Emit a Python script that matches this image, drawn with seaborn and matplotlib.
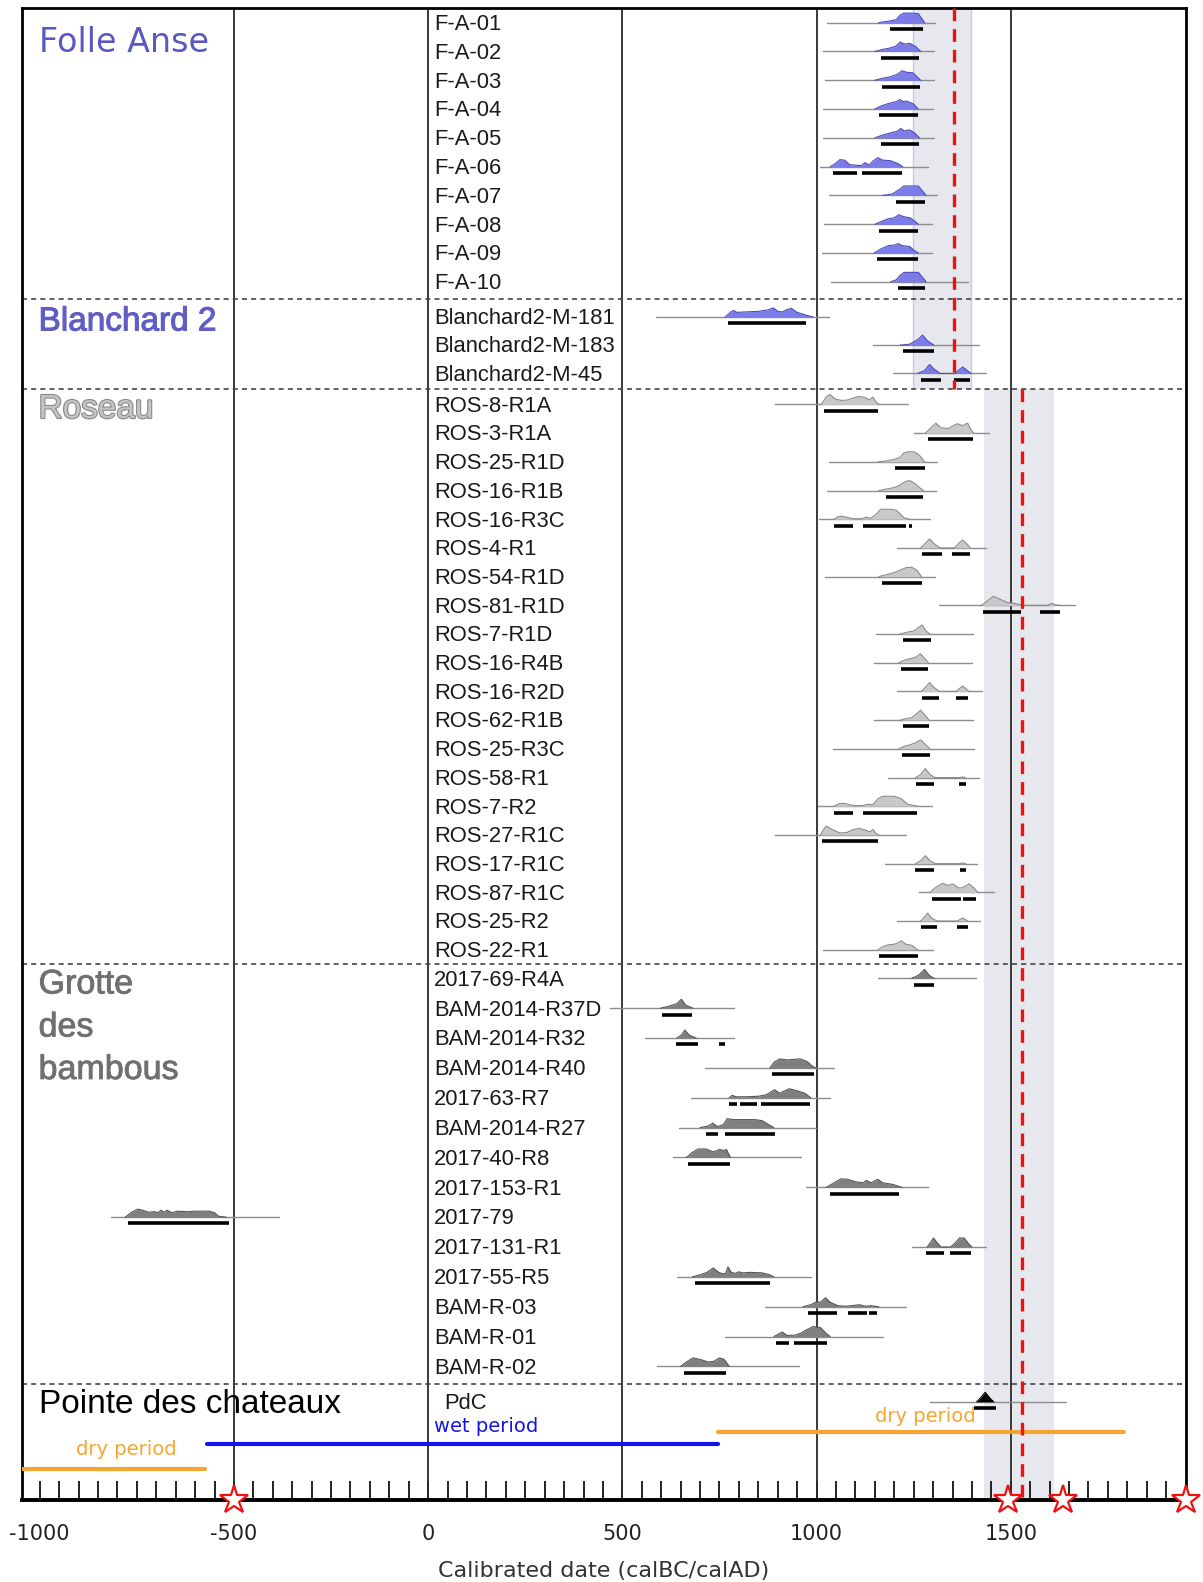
import numpy as np
import pandas as pd
import seaborn as sns
import matplotlib.pyplot as plt
import matplotlib.patheffects as pe
from matplotlib.ticker import MultipleLocator, FixedLocator

# ---------------------------------------------------------------------------
# Data
# ---------------------------------------------------------------------------
groups = ["Folle Anse", "Blanchard 2", "Roseau", "Grotte des bambous", "Pointe des chateaux"]
group_sizes = [10, 3, 20, 14, 1]

names = [
    "F-A-01", "F-A-02", "F-A-03", "F-A-04", "F-A-05",
    "F-A-06", "F-A-07", "F-A-08", "F-A-09", "F-A-10",
    "Blanchard2-M-181", "Blanchard2-M-183", "Blanchard2-M-45",
    "ROS-8-R1A", "ROS-3-R1A", "ROS-25-R1D", "ROS-16-R1B", "ROS-16-R3C",
    "ROS-4-R1", "ROS-54-R1D", "ROS-81-R1D", "ROS-7-R1D", "ROS-16-R4B",
    "ROS-16-R2D", "ROS-62-R1B", "ROS-25-R3C", "ROS-58-R1", "ROS-7-R2",
    "ROS-27-R1C", "ROS-17-R1C", "ROS-87-R1C", "ROS-25-R2", "ROS-22-R1",
    "2017-69-R4A", "BAM-2014-R37D", "BAM-2014-R32", "BAM-2014-R40",
    "2017-63-R7", "BAM-2014-R27", "2017-40-R8", "2017-153-R1", "2017-79",
    "2017-131-R1", "2017-55-R5", "BAM-R-03", "BAM-R-01", "BAM-R-02",
    "PdC",
]

# extent of the thin probability baseline
line_lo = [1027, 1016, 1021, 1016, 1016, 1008, 1033, 1018, 1014, 1037,
           586, 1145, 1196,
           892, 1252, 1032, 1027, 1006, 1207, 1023, 1316, 1152, 1148,
           1207, 1148, 1042, 1183, 1003, 892, 1177, 1263, 1207, 1016,
           1158, 468, 558, 712, 678, 646, 631, 972, -817, 1246, 641, 867, 764, 590,
           1291]
line_hi = [1306, 1303, 1303, 1301, 1302, 1286, 1309, 1298, 1298, 1391,
           1033, 1417, 1436,
           1235, 1445, 1310, 1307, 1291, 1436, 1305, 1666, 1404, 1400,
           1426, 1402, 1406, 1417, 1297, 1231, 1412, 1458, 1421, 1299,
           1411, 787, 787, 1046, 1035, 999, 961, 1288, -385, 1437, 986, 1231, 1170, 956,
           1641]

# probability curves: years and heights (px)
curve_x = [
    [1160, 1185, 1205, 1215, 1225, 1245, 1262, 1278],
    [1150, 1170, 1190, 1205, 1215, 1225, 1240, 1255, 1268],
    [1150, 1170, 1190, 1208, 1220, 1232, 1248, 1268],
    [1150, 1165, 1185, 1205, 1215, 1222, 1232, 1250, 1262],
    [1150, 1168, 1190, 1207, 1217, 1225, 1240, 1252, 1265],
    [1035, 1048, 1060, 1072, 1085, 1100, 1115, 1125, 1135, 1145, 1158, 1170, 1190, 1210, 1222],
    [1170, 1195, 1215, 1225, 1262, 1282],
    [1150, 1168, 1185, 1200, 1212, 1225, 1240, 1250, 1262],
    [1148, 1165, 1185, 1200, 1210, 1220, 1240, 1250, 1262],
    [1190, 1205, 1215, 1225, 1262, 1282],
    [765, 778, 786, 795, 820, 850, 875, 889, 900, 912, 925, 935, 950, 975, 990],
    [1215, 1240, 1260, 1273, 1285, 1302],
    [1260, 1278, 1291, 1302, 1318, 1355, 1365, 1376, 1388, 1398],
    [1012, 1025, 1034, 1048, 1065, 1080, 1095, 1107, 1125, 1135, 1145, 1152, 1160],
    [1280, 1295, 1307, 1320, 1338, 1352, 1363, 1375, 1389, 1398, 1405],
    [1158, 1180, 1200, 1215, 1225, 1235, 1252, 1265, 1278],
    [1160, 1180, 1200, 1215, 1228, 1240, 1255, 1265, 1275],
    [1045, 1055, 1065, 1078, 1095, 1115, 1128, 1140, 1155, 1165, 1190, 1205, 1215, 1225, 1240],
    [1268, 1280, 1291, 1302, 1318, 1355, 1366, 1376, 1386, 1396],
    [1160, 1180, 1200, 1215, 1230, 1245, 1258, 1270],
    [1425, 1440, 1455, 1470, 1490, 1510, 1530, 1595, 1605, 1615, 1625],
    [1215, 1235, 1250, 1262, 1272, 1282, 1292],
    [1212, 1225, 1240, 1255, 1267, 1278, 1288],
    [1270, 1281, 1291, 1301, 1316, 1360, 1368, 1376, 1384, 1392],
    [1215, 1230, 1245, 1258, 1268, 1280, 1290],
    [1212, 1225, 1240, 1255, 1268, 1280, 1292],
    [1255, 1268, 1280, 1292, 1305, 1370, 1376, 1383],
    [1045, 1058, 1070, 1085, 1100, 1120, 1132, 1145, 1158, 1170, 1200, 1218, 1235, 1260],
    [1010, 1018, 1025, 1040, 1060, 1078, 1095, 1110, 1125, 1138, 1145, 1152, 1160],
    [1255, 1268, 1280, 1292, 1305, 1368, 1376, 1384],
    [1292, 1305, 1318, 1325, 1338, 1351, 1365, 1375, 1393, 1405, 1415],
    [1268, 1278, 1286, 1296, 1310, 1362, 1376, 1390],
    [1158, 1170, 1185, 1200, 1210, 1218, 1230, 1245, 1260],
    [1245, 1262, 1278, 1290, 1303],
    [598, 620, 640, 652, 663, 682],
    [640, 652, 661, 672, 690],
    [880, 890, 905, 925, 940, 958, 975, 990, 998],
    [775, 783, 792, 820, 850, 870, 892, 905, 918, 930, 950, 970, 985],
    [700, 720, 733, 745, 760, 770, 785, 810, 840, 860, 870, 890],
    [665, 678, 695, 715, 735, 750, 762, 768, 778],
    [1025, 1045, 1063, 1080, 1100, 1120, 1128, 1140, 1158, 1170, 1195, 1220],
    [-780, -765, -748, -735, -720, -705, -695, -688, -680, -672, -660, -645, -620, -600, -565, -550, -540, -520],
    [1285, 1295, 1301, 1310, 1320, 1345, 1358, 1368, 1380, 1392, 1400],
    [680, 700, 718, 734, 748, 755, 765, 772, 780, 790, 800, 810, 830, 860, 880, 890],
    [965, 985, 1000, 1010, 1023, 1035, 1055, 1075, 1090, 1110, 1125, 1140, 1160],
    [890, 900, 911, 925, 945, 960, 975, 991, 1010, 1025, 1035],
    [650, 665, 682, 700, 720, 735, 750, 762, 775],
    [1412, 1420, 1434, 1448, 1456],
]
curve_h = [
    [0, 1.5, 3, 7.5, 9.5, 9.5, 9, 0],
    [0, 2, 3.5, 5.5, 9.5, 7.5, 8, 5, 0],
    [0, 2, 3.5, 6, 9.5, 8, 7.5, 0],
    [0, 3, 5.5, 7.5, 9.5, 7.5, 8, 5, 0],
    [0, 2.5, 5, 6.5, 9.5, 7, 8, 5, 0],
    [0, 3, 7, 6.5, 2, 1.5, 1, 4, 1.5, 5.5, 9, 6.5, 6, 3, 0],
    [0, 1.5, 6.5, 9.5, 9.5, 0],
    [0, 3, 5.5, 6.5, 9.5, 7.5, 6.5, 4, 0],
    [0, 4, 7.5, 8, 9.5, 7.5, 6.5, 3, 0],
    [0, 2, 6.5, 9.5, 9.5, 0],
    [0, 4.5, 6.5, 4.5, 5, 5.5, 7, 9, 5.5, 5, 7.5, 8.5, 4.5, 1.5, 0],
    [0, 1, 5.5, 10, 4.5, 0],
    [0, 3, 9, 4.5, 0, 0, 3, 6.5, 3, 0],
    [0, 7.5, 10, 5.5, 4, 4.5, 6.5, 8, 7, 4.5, 7.5, 3, 0],
    [0, 5.5, 10, 5.5, 4.5, 7.5, 9.5, 7.5, 10, 3, 0],
    [0, 1, 2.5, 4.5, 9, 10, 10, 6.5, 0],
    [0, 1.5, 3, 5.5, 9, 10, 6.5, 3, 0],
    [0, 2.5, 3, 2, 0.5, 0.5, 2, 1, 5.5, 10, 10, 9, 5.5, 1.5, 0],
    [0, 4.5, 9, 4.5, 0, 0, 4.5, 8, 4.5, 0],
    [0, 2, 4, 6.5, 9, 9.5, 6.5, 0],
    [0, 4.5, 9, 6.5, 3, 2, 0, 0, 2, 0.5, 0],
    [0, 2, 3, 6.5, 9, 3, 0],
    [0, 2.5, 4, 5.5, 9, 4.5, 0],
    [0, 4.5, 9, 4.5, 0, 0, 3, 5.5, 3, 0],
    [0, 1.5, 2.5, 6.5, 10, 4.5, 0],
    [0, 2.5, 4, 6, 9, 4.5, 0],
    [0, 3, 9, 3, 0, 0, 0.7, 0],
    [0, 2.5, 3, 1.5, 0.5, 0.8, 2, 1.5, 7.5, 10, 10, 7.5, 2, 0],
    [0, 5.5, 9, 5.5, 2, 2.5, 5.5, 6.5, 5, 3, 5.5, 2, 0],
    [0, 3, 8, 3, 0, 0, 0.7, 0],
    [0, 4.5, 7.5, 9, 7, 8.5, 4.5, 4.5, 8.5, 4.5, 0],
    [0, 4, 8, 3, 0, 0, 3, 0],
    [0, 3, 5, 5.5, 7, 9, 5.5, 4.5, 0],
    [0, 3, 9, 3, 0],
    [0, 2, 4.5, 9, 3, 0],
    [0, 3, 8, 3, 0],
    [0, 5.5, 9, 8, 8.5, 9, 6.5, 1.5, 0],
    [0, 2.5, 1, 1, 1.5, 3, 8, 4.5, 7, 9, 7, 4.5, 0],
    [0, 1.5, 4.5, 1, 3, 9, 8, 8, 8, 7, 4.5, 0],
    [0, 4.5, 8.5, 8.5, 5.5, 8, 7, 8, 0],
    [0, 4.5, 8.5, 8, 5.5, 4.5, 7, 4.5, 8, 4.5, 3, 0],
    [0, 4.5, 8, 7, 5, 5.5, 4.5, 7, 5, 7, 4.5, 6, 5.5, 6, 6, 4.5, 1, 0],
    [0, 5.5, 9, 4.5, 0, 0, 4.5, 9, 9, 3, 0],
    [0, 2, 4.5, 9, 4.5, 3.5, 3, 10, 4.5, 3.5, 5, 4, 4.5, 4, 2, 0],
    [0, 2, 5, 4.5, 9, 4.5, 1, 0.5, 1, 2, 0.5, 1, 0],
    [0, 2, 4.5, 1, 1.5, 3.5, 7, 10, 9, 3, 0],
    [0, 4.5, 8.5, 7, 4.5, 5, 8.5, 7, 0],
    [0, 3, 9.5, 3, 0],
]

# highest-density ranges (thick bars)
ranges = [
    [(1188, 1275)], [(1166, 1265)], [(1169, 1266)], [(1162, 1260)], [(1166, 1265)],
    [(1042, 1104), (1118, 1219)], [(1205, 1280)], [(1160, 1260)], [(1156, 1260)], [(1210, 1280)],
    [(772, 973)], [(1222, 1303)], [(1269, 1320), (1355, 1395)],
    [(1018, 1159)], [(1288, 1402)], [(1203, 1280)], [(1179, 1274)],
    [(1045, 1093), (1119, 1230), (1237, 1245)], [(1271, 1324), (1349, 1395)],
    [(1168, 1271)], [(1429, 1526), (1575, 1627)], [(1222, 1295)], [(1218, 1286)],
    [(1271, 1314), (1359, 1391)], [(1222, 1289)], [(1220, 1291)],
    [(1256, 1303), (1367, 1384)], [(1045, 1093), (1119, 1258)], [(1014, 1159)],
    [(1254, 1303), (1369, 1384)], [(1297, 1372), (1378, 1410)],
    [(1269, 1309), (1361, 1389)], [(1162, 1260)],
    [(1250, 1303)], [(603, 679)], [(637, 694), (749, 764)], [(884, 993)],
    [(775, 794), (802, 847), (858, 982)], [(715, 746), (763, 893)], [(668, 778)],
    [(1034, 1212)], [(-774, -513)], [(1282, 1327), (1344, 1398)], [(686, 881)],
    [(978, 1053), (1081, 1129), (1134, 1155)], [(895, 929), (942, 1027)], [(658, 768)],
    [(1406, 1463)],
]

# shaded periods and red dashed limits
band_years = [(1247, 1398), (1432, 1612)]
dashed_years = [1355, 1530]

# climatic periods
period_names = ["dry period", "wet period", "dry period"]
period_start = [-1045, -569, 746]
period_end = [-575, 746, 1792]
period_colors = ["#f5a630", "#1414e6", "#f5a630"]

star_years = [-500, 1492, 1635, 1950]

# ---------------------------------------------------------------------------
# Layout (vertical axis in pixel rows)
# ---------------------------------------------------------------------------
group_pitch = [28.8, 28.3, 28.7, 29.85, 0]
group_gap = [35, 31, 28.6, 35.4, 0]
fill_colors = ["#7b7be9", "#7b7be9", "#c8c8c8", "#7f7f7f", "#000000"]
edge_colors = ["#4b4bb5", "#4b4bb5", "#8a8a8a", "#555555", "#000000"]

row_y, row_group = [], []
y = 22.7
for g, n in enumerate(group_sizes):
    for k in range(n):
        if k > 0:
            y += group_pitch[g]
        row_y.append(y)
        row_group.append(g)
    y += group_gap[g]

sep_y = []
start = 0
for n in group_sizes[:-1]:
    start += n
    sep_y.append((row_y[start - 1] + row_y[start]) / 2)

sns.set_style("white")
plt.rcParams["font.family"] = ["DejaVu Sans"]
plt.rcParams["axes.unicode_minus"] = False

fig = plt.figure(figsize=(12.03, 15.82), dpi=100)
ax = fig.add_axes([0.0185, 0.0516, 0.967, 0.9433])
ax.set_xlim(-1045, 1950)
ax.set_ylim(1500.4, 8.1)

# shaded bands and red dashed lines
band_rows = [(8.1, sep_y[1]), (sep_y[1], 1500.4)]
for (x0, x1), (ya, yb), xd in zip(band_years, band_rows, dashed_years):
    ax.fill_between([x0, x1], ya, yb, color="#e7e8ed", lw=0, zorder=0)
    ax.plot([xd, xd], [ya, yb], color="#ee1111", lw=2.4, ls=(0, (3.8, 2.4)), zorder=6)
ax.vlines(band_years[0], 8.1, sep_y[1], color="#c9c9ee", lw=1, zorder=0.5)

# vertical reference lines
for xv in [-500, 0, 500, 1000, 1500]:
    ax.axvline(xv, color="#2a2a2a", lw=1.3, zorder=1)

# dashed separators
for ys in sep_y:
    ax.axhline(ys, color="#444444", lw=1.2, ls=(0, (3, 2.5)), zorder=1)

# baselines via seaborn
base = pd.DataFrame({
    "year": line_lo + line_hi,
    "y": row_y + row_y,
    "sample": names + names,
})
sns.lineplot(data=base, x="year", y="y", units="sample", estimator=None,
             color="#8c8c8c", lw=1.0, ax=ax, zorder=2, legend=False)

# probability curves and ranges
for i, name in enumerate(names):
    g = row_group[i]
    yc = row_y[i]
    xs = np.array(curve_x[i], dtype=float)
    hs = np.array(curve_h[i], dtype=float)
    ax.fill_between(xs, yc, yc - hs, color=fill_colors[g], lw=0, zorder=3)
    ax.plot(xs, yc - hs, color=edge_colors[g], lw=0.8, zorder=3.5)
    for lo, hi in ranges[i]:
        ax.plot([lo, hi], [yc + 6.3, yc + 6.3], color="black", lw=2.6,
                solid_capstyle="butt", zorder=4)
    lab_x = 41 if name == "PdC" else 15
    ax.text(lab_x, yc + 1.8, name, ha="left", va="center", fontsize=15.8,
            family=["Liberation Sans"], color="#1a1a1a", zorder=5)

# group titles
ax.text(-1003, 43, "Folle Anse", fontsize=24, color="#5858c2",
        va="center", ha="left", family=["DejaVu Sans"])
ax.text(-1003, 322, "Blanchard 2", fontsize=24, color="#5e5ec4",
        va="center", ha="left", family=["Liberation Sans"],
        path_effects=[pe.withStroke(linewidth=0.8, foreground="#5e5ec4")])
ax.text(-1003, 409.5, "Roseau", fontsize=24, color="#c4c4c4",
        va="center", ha="left", family=["Liberation Sans"],
        path_effects=[pe.withStroke(linewidth=1.6, foreground="#8a8a8a")])
for word, yy in zip(["Grotte", "des", "bambous"], [985, 1028, 1070.5]):
    ax.text(-1003, yy, word, fontsize=24.5, color="#707070",
            va="center", ha="left", family=["Liberation Sans"],
            path_effects=[pe.withStroke(linewidth=0.6, foreground="#707070")])
ax.text(-1003, 1404.5, "Pointe des chateaux", fontsize=24, color="black",
        va="center", ha="left", family=["Liberation Sans"])

# climatic periods
per = pd.DataFrame({
    "year": period_start + period_end,
    "y": [1469, 1444, 1432] * 2,
    "period": [0, 1, 2] * 2,
})
sns.lineplot(data=per, x="year", y="y", hue="period", palette=period_colors,
             lw=3, ax=ax, legend=False, zorder=4, estimator=None)
ax.text(-776, 1450, period_names[0], color=period_colors[0], fontsize=14,
        ha="center", va="center")
ax.text(15, 1427, period_names[1], color=period_colors[1], fontsize=14,
        ha="left", va="center")
ax.text(1280, 1417, period_names[2], color=period_colors[2], fontsize=14,
        ha="center", va="center")

# stars on the time axis
ax.plot(star_years, [1500.4] * len(star_years), marker="*", ls="none", ms=21,
        mfc="white", mec="#ee1111", mew=1.6, clip_on=False, zorder=10)

# axes styling
ax.xaxis.set_major_locator(FixedLocator([-1000, -500, 0, 500, 1000, 1500]))
ax.xaxis.set_minor_locator(MultipleLocator(50))
ax.tick_params(axis="x", which="both", direction="in", length=14, width=1.4,
               color="#222222", bottom=True, top=False)
ax.tick_params(axis="x", which="major", labelsize=15, pad=17, labelcolor="#222222")
ax.set_yticks([])
ax.set_ylabel("")
ax.set_xlabel("Calibrated date (calBC/calAD)", fontsize=16, color="#333333", labelpad=12)
for side, sp in ax.spines.items():
    sp.set_visible(True)
    sp.set_color("black")
    sp.set_linewidth(2.0)
ax.spines["bottom"].set_linewidth(2.8)

fig.savefig("out.png", dpi=100)
